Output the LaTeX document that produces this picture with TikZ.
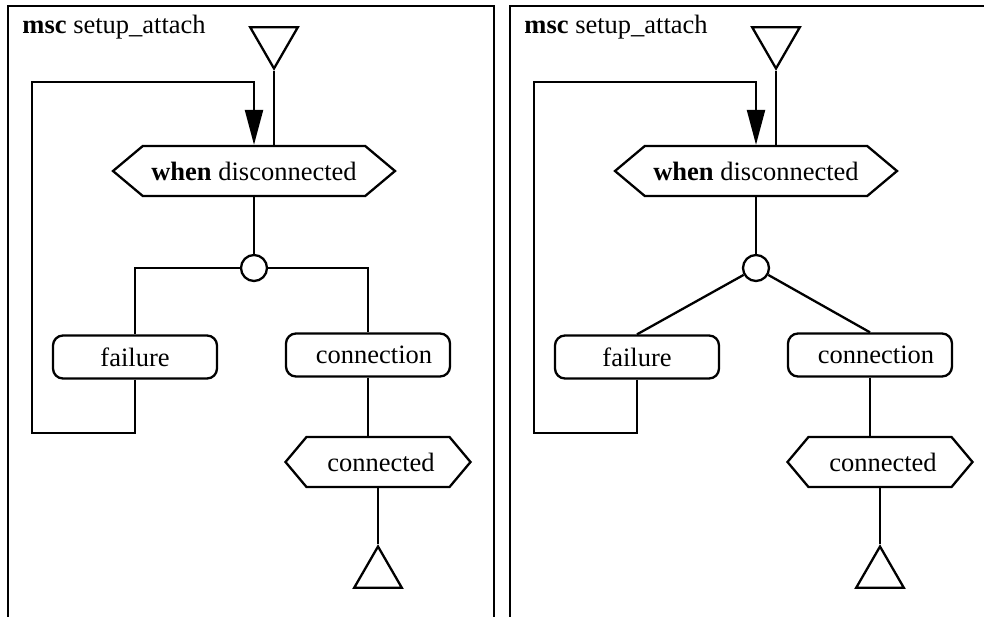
\documentclass[tikz,border=0pt]{standalone}
\usepackage{fontspec}
\setmainfont{Liberation Serif}
\usetikzlibrary{positioning,arrows.meta,shapes.geometric,shapes.symbols}

\begin{document}
\begin{tikzpicture}[x=1pt,y=-1pt,line width=2.3pt,
  font=\fontsize{26.5}{30}\selectfont,
  box/.style={draw,rectangle,rounded corners=10pt,minimum width=164pt,minimum height=43pt,inner sep=0pt},
  cond/.style={draw,signal,signal to=west and east,inner sep=0pt,minimum height=50pt},
  choice/.style={draw,circle,minimum size=26pt,inner sep=0pt},
  tri/.style={draw,regular polygon,regular polygon sides=3,minimum size=55pt,inner sep=0pt},
  flow/.style={-{Triangle[length=35pt,width=18pt]}}]
\useasboundingbox (0,0) rectangle (984,616);
\clip (0,0) rectangle (984,616);
% ---- the two panels, same layout ----
\foreach \p/\dx in {L/0,R/502}{
\begin{scope}[xshift=\dx pt]
\draw (8,620) -- (8,6) -- (494,6) -- (494,620);
\node[anchor=base west] (title\p) at (18,33) {\textbf{msc} setup\_attach};
\node[tri,shape border rotate=180] (top\p) at (274,41) {};
\node[cond,signal pointer angle=80,minimum width=282pt] (when\p) at (254,171) {\textbf{when} disconnected};
\node[choice] (alt\p) at (254,268) {};
\node[box] (fail\p) at (135,357) {failure};
\node[box] (conn\p) at (368,355) {\hspace*{12pt}connection};
\node[cond,signal pointer angle=100,minimum width=185pt] (done\p) at (378,462) {\hspace*{6pt}connected};
\node[tri] (end\p) at (378,574) {};
\coordinate (loopB\p) at (32,433);
\coordinate (loopT\p) at (32,82);
\draw (top\p.corner 1) -- (top\p.corner 1 |- when\p.north);
\draw[flow] (fail\p.south) |- (loopB\p) -- (loopT\p) -| (when\p.north);
\draw (when\p.south) -- (alt\p.north);
\draw (conn\p.south) -- (conn\p.south |- done\p.north);
\draw (done\p.south) -- (end\p.corner 1);
\end{scope}}
% ---- (a) square branches ----
\draw (altL.west) -| (failL.north);
\draw (altL.east) -| (connL.north);
% ---- (b) straight branches ----
\draw (altR) -- (failR.north);
\draw (altR) -- (connR.north);
\end{tikzpicture}
\end{document}
